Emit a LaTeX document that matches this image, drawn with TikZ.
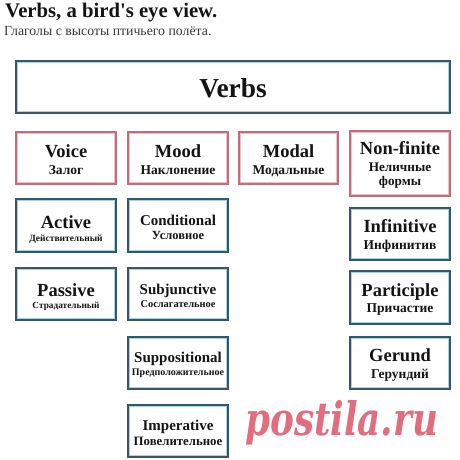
\documentclass[tikz,border=0pt]{standalone}
\usepackage{fontspec}
\setmainfont{Liberation Serif}
\newfontfamily\wmfont{DejaVu Serif}
\definecolor{tdark}{HTML}{34586A}
\definecolor{tlight}{HTML}{A9D2DE}
\definecolor{rdark}{HTML}{BE6E78}
\definecolor{rlight}{HTML}{F0C2C8}
\definecolor{wm}{HTML}{E06E7E}
\definecolor{txt}{HTML}{141414}
\tikzset{
  box/.style={rectangle, inner sep=0pt, line width=1.8pt},
  tbox/.style={box, draw=tdark, path picture={\draw[tlight, line width=4pt] (path picture bounding box.south west) rectangle (path picture bounding box.north east);}},
  rbox/.style={box, draw=rdark, path picture={\draw[rlight, line width=4pt] (path picture bounding box.south west) rectangle (path picture bounding box.north east);}},
  hd/.style={anchor=base, inner sep=0pt, text=txt, font=\bfseries\fontsize{18.5}{20}\selectfont},
  hdm/.style={anchor=base, inner sep=0pt, text=txt, font=\bfseries\fontsize{15}{17}\selectfont},
  sb/.style={anchor=base, inner sep=0pt, text=txt, font=\bfseries\fontsize{#1}{14}\selectfont},
  sb/.default=13.5,
}
\newcommand\bx[6]{\node[#2, minimum width={#5-#3-1.8}, minimum height={#6-#4-1.8}] (#1) at ({(#3+#5)/2},{(#4+#6)/2}) {};}
\begin{document}
\begin{tikzpicture}[x=1pt,y=-1pt]
\useasboundingbox[fill=white] (0,0) rectangle (460,460);
% title
\node[anchor=base west, inner sep=0pt, text=txt, font=\bfseries\fontsize{20.7}{22}\selectfont] (title) at (5,17.8) {Verbs, a bird\textquotesingle s eye view.};
\node[anchor=base west, inner sep=0pt, text=txt!85, font=\fontsize{13.8}{15}\selectfont] (subtitle) at (4,35.7) {Глаголы с высоты птичьего полёта.};
% boxes
\bx{verbs}{tbox}{15}{60}{451}{114}
\bx{voice}{rbox}{15}{131}{117}{185}
\bx{mood}{rbox}{127}{131}{229}{185}
\bx{modal}{rbox}{238}{131}{339}{185}
\bx{nonfin}{rbox}{349}{130}{451}{197}
\bx{active}{tbox}{15}{198}{117}{253}
\bx{passive}{tbox}{15}{267}{117}{321}
\bx{cond}{tbox}{127}{198}{229}{253}
\bx{subj}{tbox}{127}{267}{229}{321}
\bx{supp}{tbox}{127}{336}{229}{390}
\bx{imp}{tbox}{127}{404}{229}{458}
\bx{inf}{tbox}{349}{207}{451}{261}
\bx{part}{tbox}{349}{270}{451}{325}
\bx{ger}{tbox}{349}{336}{451}{390}
% texts
\node[anchor=base, inner sep=0pt, text=txt, font=\bfseries\fontsize{27.4}{30}\selectfont] (verbs-t) at (233,97) {Verbs};
\node[hd] (voice-t) at (66,157) {Voice};
\node[sb] (voice-s) at (66,174) {Залог};
\node[hd] (mood-t) at (178,157) {Mood};
\node[sb] (mood-s) at (178,174) {Наклонение};
\node[hd] (modal-t) at (288.5,157) {Modal};
\node[sb] (modal-s) at (288.5,174) {Модальные};
\node[hd] (nonfin-t) at (400,154) {Non-finite};
\node[sb=13.2] (nonfin-s) at (400,171.5) {Неличные};
\node[sb=13.2] (nonfin-s2) at (400,185) {формы};
\node[hd] (active-t) at (66,228) {Active};
\node[sb=9.5] (active-s) at (66,241) {Действительный};
\node[hd] (passive-t) at (66,296) {Passive};
\node[sb=9.3] (passive-s) at (66,308) {Страдательный};
\node[hdm] (cond-t) at (178,225) {Conditional};
\node[sb=12.5] (cond-s) at (178,239) {Условное};
\node[hdm] (subj-t) at (178,294) {Subjunctive};
\node[sb=10.4] (subj-s) at (178,307) {Сослагательное};
\node[hdm] (supp-t) at (178,362.7) {Suppositional};
\node[sb=10] (supp-s) at (178,375) {Предположительное};
\node[hdm] (imp-t) at (178,430.7) {Imperative};
\node[sb=12.8] (imp-s) at (178,445) {Повелительное};
\node[hd] (inf-t) at (400,232.7) {Infinitive};
\node[sb] (inf-s) at (400,249) {Инфинитив};
\node[hd] (part-t) at (400,296) {Participle};
\node[sb] (part-s) at (400,312.7) {Причастие};
\node[hd] (ger-t) at (400,361.7) {Gerund};
\node[sb] (ger-s) at (400,378) {Герундий};
% watermark
\node[anchor=base west, inner sep=0pt, text=wm] (wm) at (245,435) {\resizebox{193pt}{35pt}{\wmfont\bfseries\itshape\fontsize{44}{48}\selectfont postila.ru}};
\end{tikzpicture}
\end{document}
